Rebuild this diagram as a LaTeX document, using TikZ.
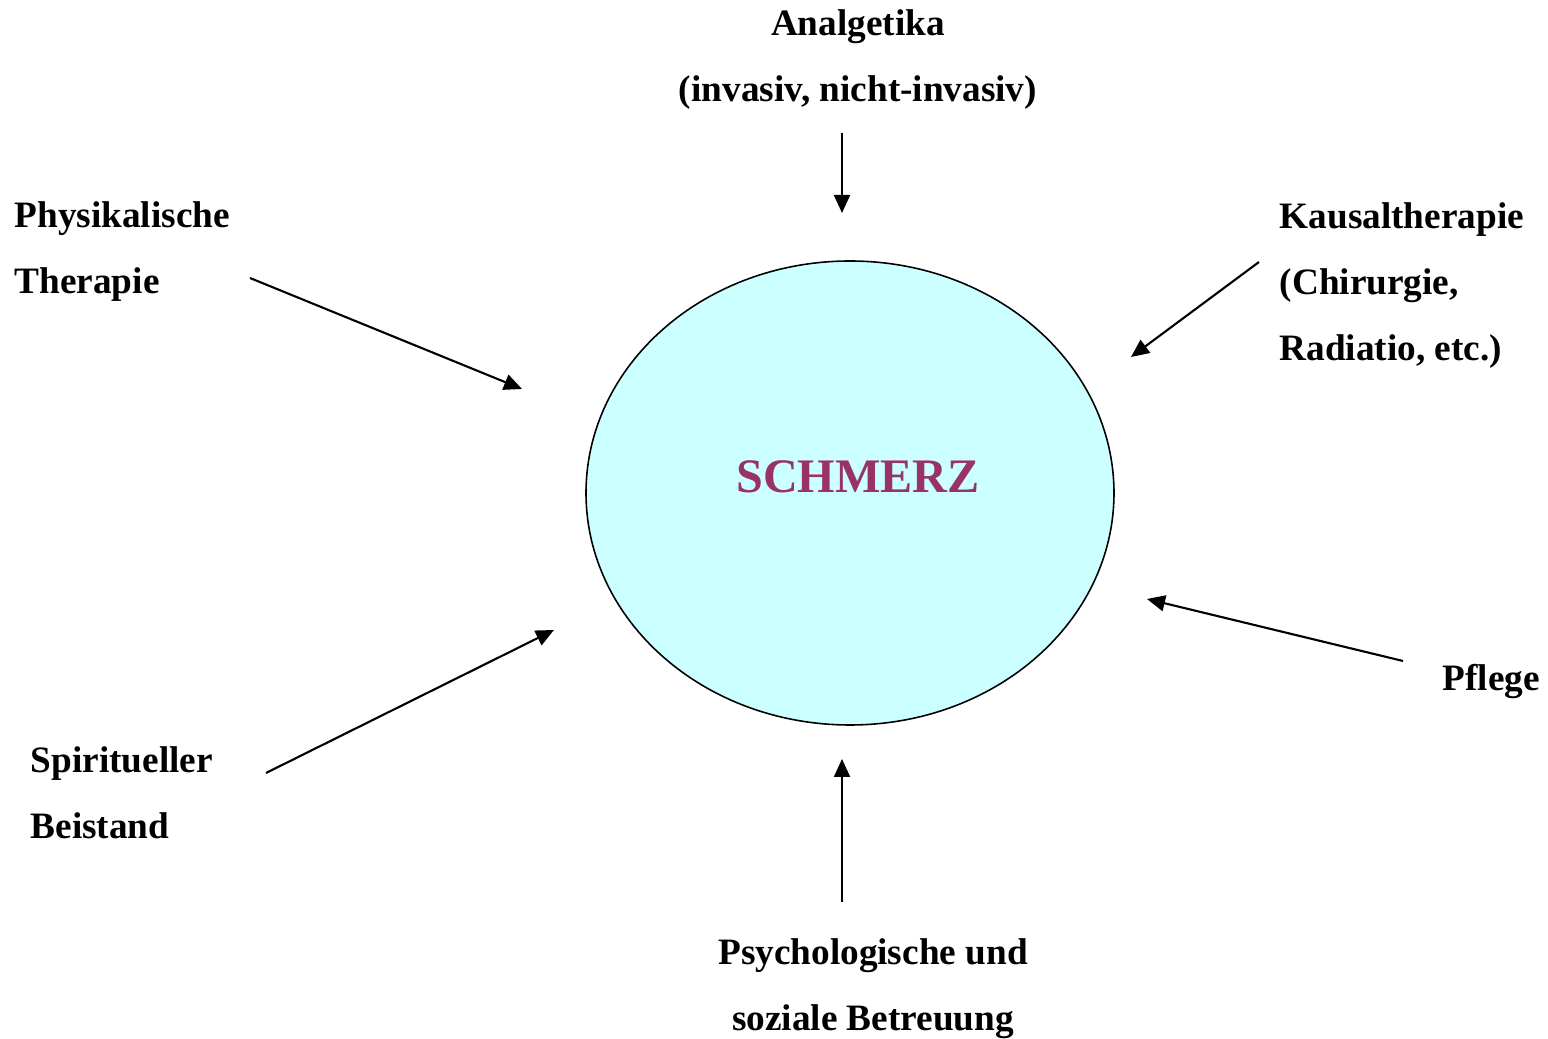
\documentclass[tikz,border=0pt]{standalone}
\usepackage{fontspec}
\setmainfont{Liberation Serif}
\usepackage{xcolor}
\usepackage{tikz}
\usetikzlibrary{shapes.geometric, arrows.meta, positioning}
\definecolor{kreisfill}{RGB}{204,255,255}
\definecolor{schmerzrot}{RGB}{153,51,102}
\tikzset{
  label/.style={inner sep=0pt, align=left,
    font=\fontsize{10.6pt}{18.9pt}\selectfont\bfseries},
  clabel/.style={label, align=center},
  kreis/.style={ellipse, draw=black, fill=kreisfill, line width=0.45pt,
    minimum width=52.8mm, minimum height=46.4mm, inner sep=0pt},
  titel/.style={inner sep=0pt, text=schmerzrot,
    font=\fontsize{13.7pt}{16pt}\selectfont\bfseries},
  pfeil/.style={-{Triangle[length=1.8mm, width=1.6mm]}, line width=0.6pt, color=black}
}

\begin{document}
\begin{tikzpicture}[x=0.1mm, y=-0.1mm]
  \useasboundingbox (0,0) rectangle (1548,1039);

  % centre
  \node[kreis] (kreis) at (850,493) {};
  \node[titel, anchor=base] (schmerz) at (858,493) {SCHMERZ};

  % labels (anchored at the baseline of their last line)
  \node[clabel, anchor=base] (analg) at (858,102) {Analgetika\\(invasiv, nicht-invasiv)};
  \node[label, anchor=base west] (phys) at (14,294) {Physikalische\\Therapie};
  \node[label, anchor=base west] (kausal) at (1279,361) {Kausaltherapie\\(Chirurgie,\\Radiatio, etc.)};
  \node[label, anchor=base west] (pflege) at (1442,691) {Pflege};
  \node[label, anchor=base west] (spirit) at (30,839) {Spiritueller\\Beistand};
  \node[clabel, anchor=base] (psych) at (873,1031) {Psychologische und\\soziale Betreuung};

  % arrow ends
  \coordinate (analg-a) at (842,133);
  \coordinate (analg-b) at (842,213);
  \coordinate (phys-a) at (250,278);
  \coordinate (phys-b) at (522,389);
  \coordinate (kausal-a) at (1259,262);
  \coordinate (kausal-b) at (1131,357);
  \coordinate (pflege-a) at (1403,661);
  \coordinate (pflege-b) at (1147,599);
  \coordinate (spirit-a) at (266,773);
  \coordinate (spirit-b) at (554,630);
  \coordinate (psych-a) at (842,902);
  \coordinate (psych-b) at (842,759);

  \draw[pfeil] (analg-a) -- (analg-b);
  \draw[pfeil] (phys-a) -- (phys-b);
  \draw[pfeil] (kausal-a) -- (kausal-b);
  \draw[pfeil] (pflege-a) -- (pflege-b);
  \draw[pfeil] (spirit-a) -- (spirit-b);
  \draw[pfeil] (psych-a) -- (psych-b);
\end{tikzpicture}
\end{document}
